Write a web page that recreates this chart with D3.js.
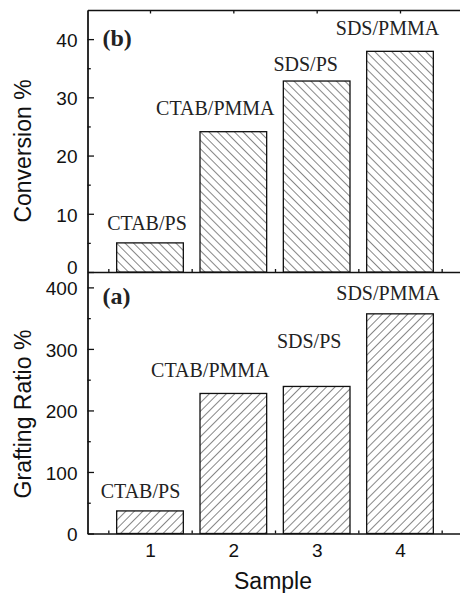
<!DOCTYPE html>
<html>
<head>
  <title>Conversion and grafting ratio</title>
  <script src="https://d3js.org/d3.v7.min.js"></script>
  <style>
    body { margin: 0; background: #fff; }
    .tick text { font-family: "Liberation Sans", Arial, sans-serif; font-size: 19px; fill: #111; }
    .axis path, .axis line { stroke: #111; stroke-width: 1.3; }
  </style>
</head>
<body>
  <div id="chart"></div>
  <script>
    // data
    const samples = [1, 2, 3, 4];
    const sampleNames = ["CTAB/PS", "CTAB/PMMA", "SDS/PS", "SDS/PMMA"];
    const conversion = [5.0, 24.1, 32.8, 37.9];
    const grafting = [36.7, 227.6, 239, 357];
    const conversionTicks = [0, 10, 20, 30, 40];
    const graftingTicks = [0, 100, 200, 300, 400];

    const width = 460, height = 593;
    const plotLeft = 87.5, plotTop = 10, plotMid = 272, plotBottom = 533.5;

    const svg = d3.select("#chart")
                  .append("svg")
                  .attr("width", width)
                  .attr("height", height);

    // hatch patterns: "\" for top panel, "/" for bottom panel
    const defs = svg.append("defs");
    [["hatchB", -45], ["hatchA", 45]].forEach(([id, angle]) => {
      const p = defs.append("pattern")
        .attr("id", id)
        .attr("patternUnits", "userSpaceOnUse")
        .attr("width", 6).attr("height", 6)
        .attr("patternTransform", `rotate(${angle})`);
      p.append("rect").attr("width", 6).attr("height", 6).attr("fill", "#fff");
      p.append("line")
        .attr("x1", 0).attr("y1", 0).attr("x2", 0).attr("y2", 6)
        .attr("stroke", "#222").attr("stroke-width", 1.1);
    });

    const x = d3.scaleLinear().domain([0.25, 4.75]).range([plotLeft, plotLeft + 375]);
    const yTop = d3.scaleLinear().domain([0, 45]).range([plotMid, plotTop]);
    const yBot = d3.scaleLinear().domain([0, 425]).range([plotBottom, plotMid]);
    const barW = 0.8;

    // per-label pixel nudges (dx, gap above bar)
    const nudgeTop = [[-3, 12.7], [-18, 16.3], [-11, 10], [-12.5, 16.3]];
    const nudgeBot = [[-9.5, 12.7], [-23, 16.6], [-7.5, 38], [-12, 13.7]];
    const halfTicks = d3.range(0.5, 4.6, 0.5);

    function panel(y, values, ticks, minorStep, hatch, nudge, title, titleY, tag, tagY, zeroDy) {
      const g = svg.append("g");

      // minor y ticks
      g.append("g").attr("class", "axis")
        .attr("transform", `translate(${plotLeft},0)`)
        .call(d3.axisLeft(y)
          .tickValues(d3.range(minorStep, y.domain()[1], minorStep * 2))
          .tickSize(-3.3).tickSizeOuter(0).tickFormat(""));

      // major y ticks
      const ya = g.append("g").attr("class", "axis")
        .attr("transform", `translate(${plotLeft},0)`)
        .call(d3.axisLeft(y)
          .tickValues(ticks)
          .tickSize(-6.5).tickSizeOuter(0).tickPadding(10));
      ya.selectAll(".tick text").attr("dy", "0.38em");
      if (zeroDy) ya.selectAll(".tick text").filter(d => d === 0).attr("dy", zeroDy);

      // x axis ticks at half steps, no labels
      g.append("g").attr("class", "axis")
        .attr("transform", `translate(0,${y(0)})`)
        .call(d3.axisBottom(x)
          .tickValues(halfTicks)
          .tickSize(-3).tickSizeOuter(0).tickFormat(""));

      // bars
      g.selectAll("rect.bar")
        .data(samples)
        .enter()
        .append("rect")
        .attr("class", "bar")
        .attr("x", d => x(d - barW / 2))
        .attr("y", (d, i) => y(values[i]))
        .attr("width", x(barW) - x(0))
        .attr("height", (d, i) => y(0) - y(values[i]))
        .attr("fill", `url(#${hatch})`)
        .attr("stroke", "#111")
        .attr("stroke-width", 1.3);

      // bar labels
      g.selectAll("text.lbl")
        .data(samples)
        .enter()
        .append("text")
        .attr("class", "lbl")
        .attr("x", (d, i) => x(d) + nudge[i][0])
        .attr("y", (d, i) => y(values[i]) - nudge[i][1])
        .attr("text-anchor", "middle")
        .style("font-family", '"Liberation Serif", "Times New Roman", serif')
        .style("font-size", "20px")
        .attr("fill", "#222")
        .text((d, i) => sampleNames[i]);

      // panel tag
      g.append("text")
        .attr("x", plotLeft + 15)
        .attr("y", tagY)
        .style("font-family", '"Liberation Serif", "Times New Roman", serif')
        .style("font-size", "24px")
        .style("font-weight", "bold")
        .attr("fill", "#222")
        .text(tag);

      // y title
      g.append("text")
        .attr("transform", `translate(31,${titleY}) rotate(-90)`)
        .attr("text-anchor", "middle")
        .style("font-family", '"Liberation Sans", Arial, sans-serif')
        .style("font-size", "23px")
        .attr("fill", "#111")
        .text(title);
    }

    panel(yTop, conversion, conversionTicks, 5, "hatchB", nudgeTop,
          "Conversion %", 151, "(b)", 46, "0.1em");
    panel(yBot, grafting, graftingTicks, 50, "hatchA", nudgeBot,
          "Grafting Ratio %", 414, "(a)", 304, null);

    // top frame with ticks at the samples
    svg.append("g").attr("class", "axis")
       .attr("transform", `translate(0,${plotTop})`)
       .call(d3.axisTop(x).tickValues(samples).tickSize(-3.5).tickSizeOuter(0).tickFormat(""));

    // sample numbers under the bottom panel
    const xa = svg.append("g").attr("class", "axis")
       .attr("transform", `translate(0,${plotBottom})`)
       .call(d3.axisBottom(x).tickValues(samples).tickFormat(d3.format("d"))
         .tickSize(0).tickSizeOuter(0).tickPadding(10));
    xa.select(".domain").remove();

    svg.append("text")
       .attr("x", 273)
       .attr("y", 589)
       .attr("text-anchor", "middle")
       .style("font-family", '"Liberation Sans", Arial, sans-serif')
       .style("font-size", "23px")
       .attr("fill", "#111")
       .text("Sample");
  </script>
</body>
</html>
